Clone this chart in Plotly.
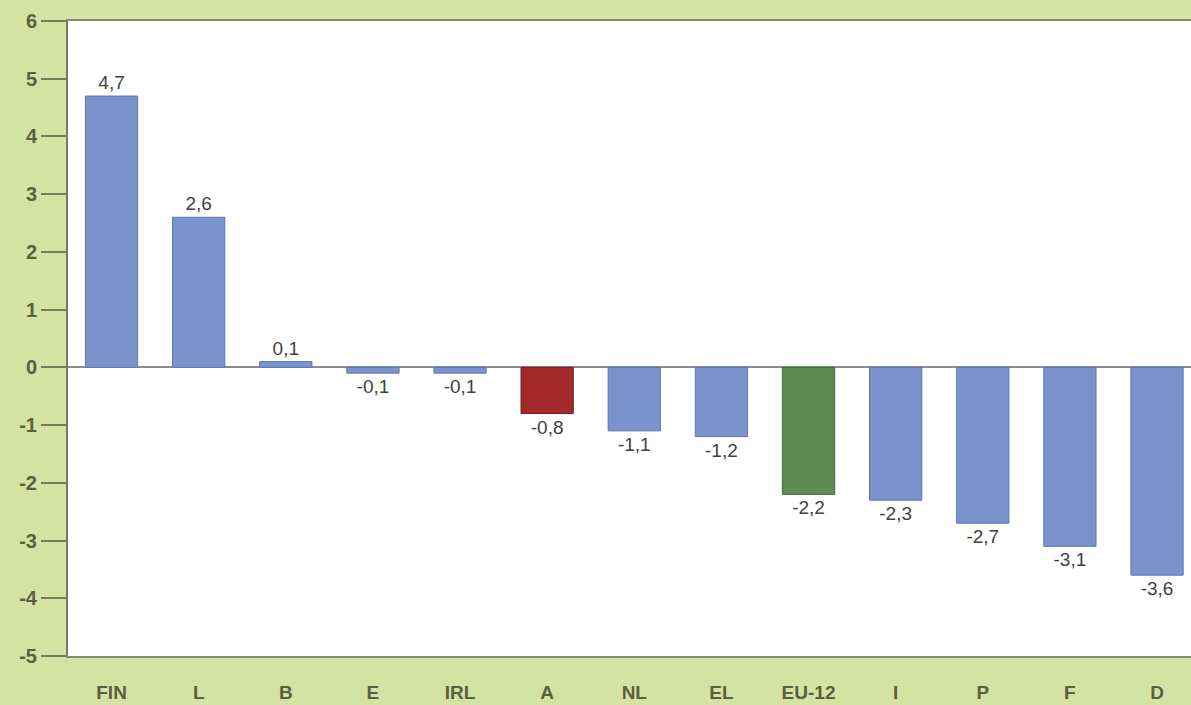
import plotly.graph_objects as go

categories = ["FIN", "L", "B", "E", "IRL", "A", "NL", "EL", "EU-12", "I", "P", "F", "D"]
values = [4.7, 2.6, 0.1, -0.1, -0.1, -0.8, -1.1, -1.2, -2.2, -2.3, -2.7, -3.1, -3.6]
y_ticks = [-5, -4, -3, -2, -1, 0, 1, 2, 3, 4, 5, 6]

BLUE = "#7b93cd"
RED = "#a3292b"
GREEN = "#5e8c55"
colors = [RED if c == "A" else GREEN if c == "EU-12" else BLUE for c in categories]
line_colors = ["#6a2020" if c == "A" else "#3f6a3a" if c == "EU-12" else "#5f76ad" for c in categories]
bar_text = [f"{v:.1f}".replace(".", ",") for v in values]

fig = go.Figure()
fig.add_trace(go.Bar(
    x=categories, y=values,
    marker=dict(color=colors, line=dict(color=line_colors, width=1)),
    width=0.6,
    text=bar_text, textposition="outside",
    textfont=dict(family="Liberation Sans, Arial", size=19, color="#3f3f3f"),
    cliponaxis=False,
))

fig.update_layout(
    width=1191, height=705,
    margin=dict(l=68, r=0, t=21, b=49),
    paper_bgcolor="#d4e3a3",
    plot_bgcolor="#ffffff",
    showlegend=False,
    bargap=0.4,
)
fig.update_xaxes(
    range=[-0.5, 12.39],
    showgrid=False, ticks="", showline=True, linecolor="#8a8a6a", linewidth=2,
    mirror=True,
    tickfont=dict(family="Liberation Sans, Arial", size=19, color="#5e5e3e", weight="bold"),
    ticklabelstandoff=18,
)
fig.update_yaxes(
    range=[-5, 6], tickvals=y_ticks, ticktext=[str(t) for t in y_ticks],
    showgrid=False, zeroline=True, zerolinecolor="#8c8c8c", zerolinewidth=2,
    showline=True, linecolor="#7a7a5a", linewidth=2,
    ticks="outside", ticklen=25, tickcolor="#7a7a5a", tickwidth=2,
    tickfont=dict(family="Liberation Sans, Arial", size=20, color="#5e5e3e", weight="bold"),
)

fig.write_html("out.html")
